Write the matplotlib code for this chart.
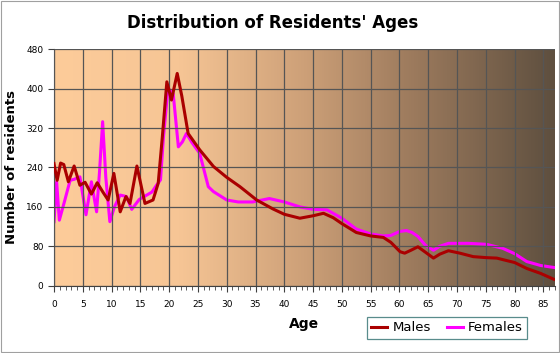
import numpy as np
import matplotlib.pyplot as plt
from matplotlib.colors import LinearSegmentedColormap

# values
male_age = [0, 0.55, 1.15, 1.7, 2.5, 3.5, 4.5, 5.4, 6.5, 7.5, 8.5, 9.4, 10.4, 11.5, 12.5,
            13.2, 14.4, 15.8, 17.2, 18.1, 18.8, 19.6, 20.4, 21.4, 22.2, 23.3, 25.3, 27.7,
            30, 32.3, 35.2, 38, 40, 42.7, 45, 46.8, 48.5, 50, 52.5, 55, 57.2, 58.5, 60.1,
            60.9, 62, 63.2, 64.5, 65.9, 67, 68.5, 70.5, 72.8, 75, 76.9, 80, 82.1, 84.5, 86.8]
males = [248, 214, 249, 246, 211, 243, 204, 210, 186, 209, 190, 174, 228, 150, 181,
         167, 243, 167, 174, 208, 300, 414, 377, 431, 385, 309, 276, 242,
         220, 201, 174, 156, 145, 137, 142, 147, 138, 126, 108, 101, 98, 88, 69,
         66, 72, 79, 68, 56, 64, 71, 66, 59, 57, 56, 47, 35, 25, 13]

female_age = [0, 0.46, 0.93, 1.8, 2.8, 3.5, 4.5, 5.56, 6.5, 7.4, 7.9, 8.45, 9.0, 9.7, 10.5,
              11.5, 12.6, 13.5, 14.8, 16.1, 17.0, 17.8, 18.5, 19.0, 19.8, 20.7, 21.6, 22.3,
              23, 24, 25.3, 26.8, 27.7, 30, 32, 34.5, 37.4, 40, 42.7, 45, 47.4, 50, 52.5,
              55, 57.2, 58.5, 60, 61.2, 62.2, 63.2, 64.5, 65.9, 67, 68.5, 72, 75.1, 77.9,
              80, 82.1, 84.5, 86.8]
females = [130, 211, 133, 170, 214, 216, 221, 144, 211, 150, 230, 333, 220, 130, 160,
           184, 181, 155, 175, 184, 190, 204, 215, 300, 401, 390, 282, 292,
           309, 290, 269, 201, 191, 174, 170, 170, 177, 170, 160, 155, 154, 137, 115,
           105, 101, 102, 110, 112, 108, 100, 82, 72, 80, 86, 86, 84, 76,
           65, 49, 41, 37]

x_ticks = list(range(0, 90, 5))
y_ticks = [0, 80, 160, 240, 320, 400, 480]

fig = plt.figure(figsize=(5.6, 3.53), dpi=100)
fig.patch.set_facecolor('white')
ax = fig.add_axes([0.0964, 0.1907, 0.8946, 0.6696])

# background gradient
cmap = LinearSegmentedColormap.from_list('bg', [
    (0.0, (253/255, 204/255, 154/255)),
    (0.25, (246/255, 197/255, 149/255)),
    (0.5, (205/255, 160/255, 120/255)),
    (0.7, (160/255, 125/255, 95/255)),
    (1.0, (94/255, 79/255, 63/255))])
grad = np.linspace(0, 1, 256).reshape(1, -1)
ax.imshow(grad, cmap=cmap, aspect='auto', extent=[0, 87, 0, 480], zorder=0)

ax.plot(male_age, males, color='#aa0000', lw=2.2, label='Males', zorder=3,
        solid_joinstyle='round')
ax.plot(female_age, females, color='#ff00ff', lw=2.2, label='Females', zorder=2,
        solid_joinstyle='round')

ax.set_xlim(0, 87)
ax.set_ylim(0, 480)
ax.set_xticks(x_ticks)
ax.set_xticks(range(0, 88), minor=True)
ax.set_yticks(y_ticks)
ax.grid(True, which='major', color='#555555', lw=0.9)
ax.set_axisbelow(False)
for s in ['top', 'right']:
    ax.spines[s].set_visible(False)
ax.spines['left'].set_color('#404040')
ax.spines['bottom'].set_color('#404040')
ax.tick_params(axis='both', labelsize=6.5, colors='#404040', labelcolor='black',
               length=4, width=0.8)
ax.tick_params(axis='x', which='minor', length=3, width=0.6, colors='#404040')
ax.tick_params(axis='x', pad=6)

ax.set_xlabel('Age', fontsize=10, fontweight='bold', labelpad=6)
ax.set_ylabel('Number of residents', fontsize=9.5, fontweight='bold', labelpad=6)
fig.text(0.487, 0.935, "Distribution of Residents' Ages", ha='center', va='center',
         fontsize=12, fontweight='bold')

leg = fig.legend(loc='lower left', bbox_to_anchor=(0.655, 0.04), ncol=2, fontsize=9.5,
                 frameon=True, fancybox=False, handlelength=1.2, handletextpad=0.4,
                 columnspacing=1.2, borderpad=0.35, borderaxespad=0)
leg.get_frame().set_edgecolor('#307070')
leg.get_frame().set_facecolor('white')
leg.get_frame().set_linewidth(0.9)

fig.patches.append(plt.Rectangle((0.001, 0.002), 0.997, 0.995, transform=fig.transFigure,
                                 fill=False, edgecolor='#a0a0a0', lw=0.8))

fig.savefig('out.png', dpi=100)
